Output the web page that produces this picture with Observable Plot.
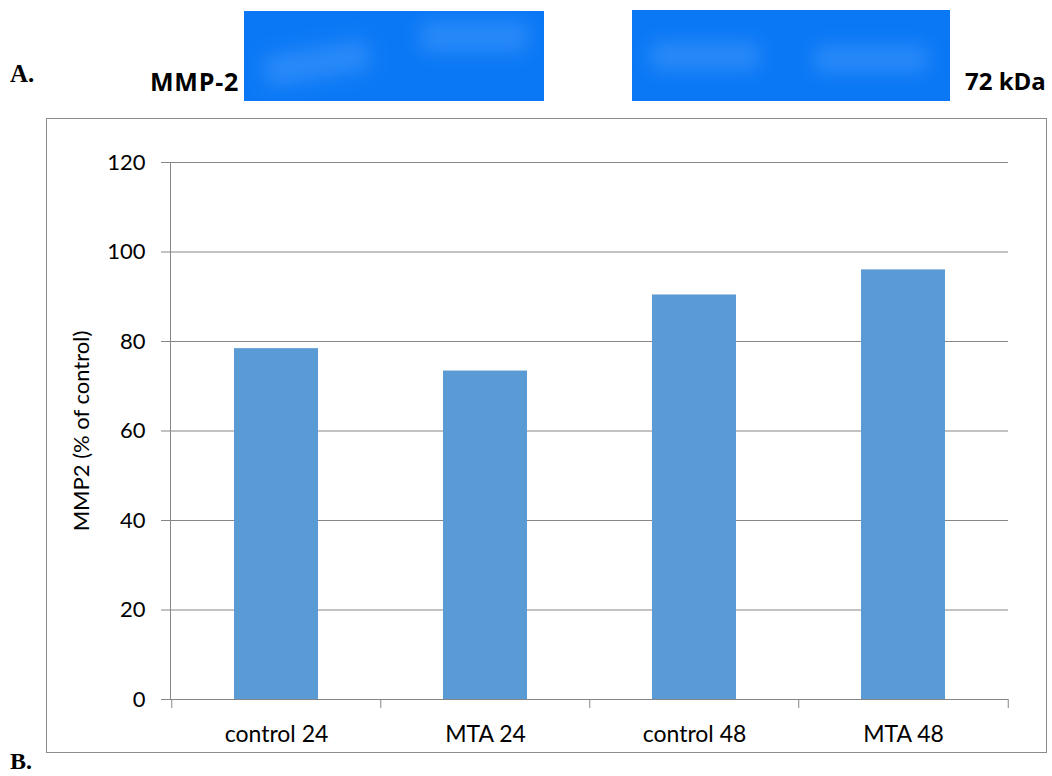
<!DOCTYPE html>
<html>
<head>
<meta charset="utf-8">
<script src="https://cdn.jsdelivr.net/npm/d3@7"></script>
<script src="https://cdn.jsdelivr.net/npm/@observablehq/plot@0.6"></script>
<style>
  html, body { margin: 0; padding: 0; background: #fff; }
  #page { position: relative; width: 1052px; height: 776px; overflow: hidden; font-family: "Open Sans", sans-serif; }
  .gel { position: absolute; background: #0a78f5; overflow: hidden; }
  .band { position: absolute; background: rgba(90,165,255,0.38); filter: blur(9px); border-radius: 8px; }
  .lbl { position: absolute; color: #000; white-space: nowrap; line-height: 1; }
  #box { position: absolute; left: 46px; top: 118px; width: 1001px; height: 635px; border: 1px solid #8c8c8c; box-sizing: border-box; }
  #chart { position: absolute; left: 0; top: 0; }
</style>
</head>
<body>
<div id="page">
  <div id="box"></div>
  <div class="gel" style="left:244px;top:11px;width:300px;height:90px;">
    <div class="band" style="left:20px;top:36px;width:106px;height:32px;transform:rotate(-10deg);"></div>
    <div class="band" style="left:176px;top:10px;width:108px;height:32px;"></div>
  </div>
  <div class="gel" style="left:632px;top:10px;width:318px;height:91px;">
    <div class="band" style="left:18px;top:31px;width:110px;height:30px;"></div>
    <div class="band" style="left:182px;top:35px;width:114px;height:28px;"></div>
  </div>
  <div class="lbl" style="left:10px;top:61px;font-family:'Liberation Serif',serif;font-weight:bold;font-size:25px;">A.</div>
  <div class="lbl" style="left:150px;top:69px;font-weight:bold;font-size:25px;letter-spacing:0.8px;">MMP-2</div>
  <div class="lbl" style="left:965px;top:69px;font-weight:bold;font-size:24px;">72 kDa</div>
  <div class="lbl" style="left:10px;top:749px;font-family:'Liberation Serif',serif;font-weight:bold;font-size:24px;">B.</div>
  <div id="chart"></div>
</div>
<script>
const categories = ["control 24", "MTA 24", "control 48", "MTA 48"];
const values = [78.4, 73.4, 90.4, 96.0];
const yTicks = [0, 20, 40, 60, 80, 100, 120];
const yLabel = "MMP2 (% of control)";

const data = categories.map((c, i) => ({cat: c, value: values[i]}));
const W = 1052, H = 776, mL = 170, mR = 44, mT = 162, mB = 77;
const half = (W - mL - mR) / categories.length / 2;

const chart = Plot.plot({
  width: W, height: H,
  marginLeft: mL, marginRight: mR, marginTop: mT, marginBottom: mB,
  style: {fontFamily: "Lato, 'Open Sans', sans-serif", fontSize: "22px", color: "#000", background: "transparent", overflow: "visible"},
  x: {domain: categories, paddingInner: 0.6, paddingOuter: 0.3, label: null},
  y: {domain: [0, 120], label: null},
  marks: [
    Plot.ruleY(yTicks, {stroke: "#868686", strokeOpacity: 1, insetLeft: -9}),
    Plot.barY(data, {x: "cat", y: "value", fill: "#5b9bd5"}),
    Plot.frame({anchor: "left", stroke: "#868686", strokeOpacity: 1}),
    Plot.ruleX(categories, {x: d => d, y1: 0, y2: -2, dx: -half, stroke: "#868686", strokeOpacity: 1}),
    Plot.ruleX(categories.slice(-1), {x: d => d, y1: 0, y2: -2, dx: half, stroke: "#868686", strokeOpacity: 1}),
    Plot.axisY({ticks: yTicks, tickSize: 0, tickPadding: 25, label: yLabel, labelAnchor: "center", labelArrow: "none", labelOffset: 97, fill: "#000"}),
    Plot.axisX({tickSize: 0, tickPadding: 26, label: null, fill: "#000", fontSize: 23})
  ]
});
document.getElementById("chart").appendChild(chart);
</script>
</body>
</html>
